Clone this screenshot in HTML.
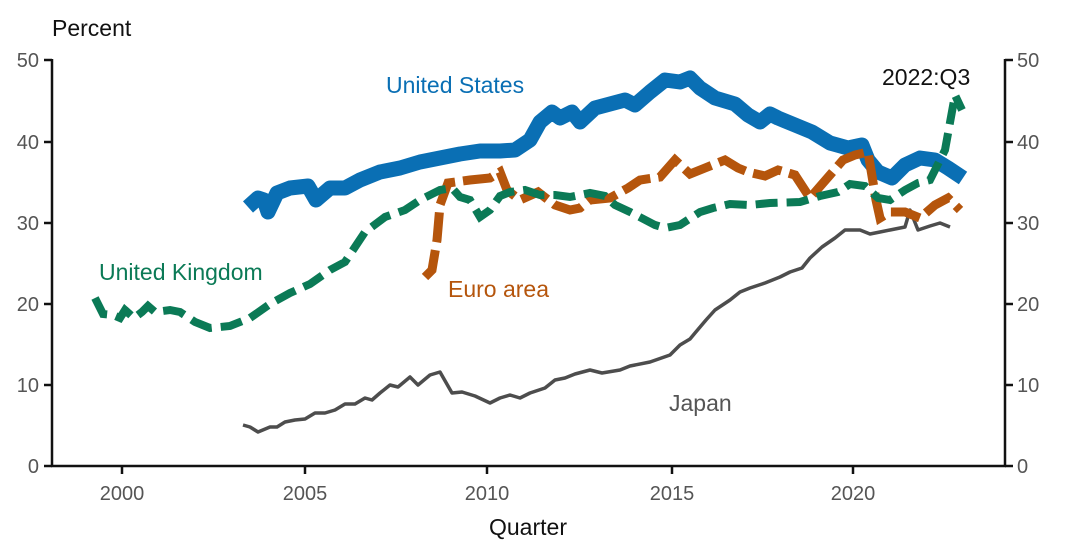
<!DOCTYPE html>
<html><head><meta charset="utf-8"><style>
html,body{margin:0;padding:0;background:#fff;}
svg{display:block;font-family:"Liberation Sans",Arial,sans-serif;}
</style></head><body>
<svg width="1065" height="552" viewBox="0 0 1065 552">
<g stroke="#111" stroke-width="2.5" fill="none">
<line x1="52" y1="59" x2="52" y2="467"/>
<line x1="1005" y1="59" x2="1005" y2="467"/>
<line x1="51" y1="466" x2="1006" y2="466"/>
<line x1="44" y1="60" x2="52" y2="60"/><line x1="44" y1="142" x2="52" y2="142"/><line x1="44" y1="223" x2="52" y2="223"/><line x1="44" y1="304" x2="52" y2="304"/><line x1="44" y1="385" x2="52" y2="385"/><line x1="44" y1="466" x2="52" y2="466"/>
<line x1="1005" y1="60" x2="1013" y2="60"/><line x1="1005" y1="142" x2="1013" y2="142"/><line x1="1005" y1="223" x2="1013" y2="223"/><line x1="1005" y1="304" x2="1013" y2="304"/><line x1="1005" y1="385" x2="1013" y2="385"/><line x1="1005" y1="466" x2="1013" y2="466"/>
<line x1="122" y1="466" x2="122" y2="474"/><line x1="305" y1="466" x2="305" y2="474"/><line x1="487" y1="466" x2="487" y2="474"/><line x1="672" y1="466" x2="672" y2="474"/><line x1="853" y1="466" x2="853" y2="474"/>
</g>
<g fill="#555" font-size="20">
<g text-anchor="end"><text x="39" y="67">50</text><text x="39" y="149">40</text><text x="39" y="230">30</text><text x="39" y="311">20</text><text x="39" y="392">10</text><text x="39" y="473">0</text></g>
<g text-anchor="start"><text x="1017" y="67">50</text><text x="1017" y="149">40</text><text x="1017" y="230">30</text><text x="1017" y="311">20</text><text x="1017" y="392">10</text><text x="1017" y="473">0</text></g>
<g text-anchor="middle"><text x="122" y="500">2000</text><text x="305" y="500">2005</text><text x="487" y="500">2010</text><text x="672" y="500">2015</text><text x="853" y="500">2020</text></g>
</g>
<text x="52" y="36" font-size="23" fill="#111">Percent</text>
<text x="528" y="535" font-size="23" fill="#111" text-anchor="middle">Quarter</text>
<polyline fill="none" stroke="#4d4d4d" stroke-width="3.5" stroke-linejoin="round" points="243,425 250,427 258,432 270,427 277,427 285,422 295,420 305,419 315,413 325,413 335,410 345,404 355,404 365,398 372,400 380,393 390,385 398,387 410,377 418,385 430,375 440,372 452,393 462,392 475,396 490,403 500,398 510,395 520,398 530,393 545,388 555,380 565,378 575,374 590,370 602,373 620,370 630,366 650,362 670,355 680,345 690,339 695,333 706,320 715,310 730,300 740,292 750,288 765,283 780,277 790,272 802,268 810,258 822,247 835,238 845,230 860,230 870,234 880,232 890,230 900,228 905,227 910,210 918,230 930,226 940,223 950,227"/>
<polyline fill="none" stroke="#0a6fb4" stroke-width="15" stroke-linejoin="round" points="248,207 258,198 264,200 268,212 277,193 290,188 308,186 316,200 330,188 345,188 360,180 380,172 400,168 420,162 440,158 460,154 480,151 500,151 515,150 530,140 540,122 552,112 560,118 572,112 580,122 595,108 610,104 625,100 635,105 650,92 665,80 680,82 690,78 700,88 715,98 735,104 748,115 760,122 770,114 778,118 795,125 812,132 830,143 848,148 862,145 868,160 878,172 892,178 905,165 920,158 935,160 948,168 963,178"/>
<polyline fill="none" stroke="#b5550c" stroke-width="9" stroke-dasharray="30,8" points="425,277 432,270 437,240 440,205 448,183 470,180 490,178 500,172 507,190 520,200 538,192 555,205 570,210 580,208 590,200 610,198 628,188 640,180 660,177 675,160 690,174 705,168 725,160 738,168 748,172 765,176 778,170 795,175 810,198 830,175 843,160 855,155 868,152 876,200 880,218 890,212 905,212 920,218 935,205 948,198 960,210"/>
<polyline fill="none" stroke="#0b7a56" stroke-width="8" stroke-dasharray="22,9" points="95,298 103,314 113,315 120,318 125,310 134,318 142,312 148,306 155,312 170,310 180,312 195,322 210,328 230,326 250,318 270,304 290,293 310,284 330,270 345,262 365,232 385,217 405,210 420,200 440,190 452,188 460,197 470,200 480,217 490,210 500,196 510,192 525,190 540,195 555,195 570,197 590,193 605,196 615,205 630,212 655,225 665,228 680,225 700,212 713,208 730,204 750,205 770,203 800,202 820,196 838,192 850,184 865,186 878,198 890,200 905,190 918,183 930,180 945,150 955,95 962,110"/>
<text x="386" y="93" font-size="23" fill="#0a6fb4">United States</text>
<text x="99" y="280" font-size="23" fill="#0b7a56">United Kingdom</text>
<text x="448" y="297" font-size="23" fill="#b5550c">Euro area</text>
<text x="669" y="411" font-size="23" fill="#555">Japan</text>
<text x="882" y="85" font-size="23" fill="#111">2022:Q3</text>
</svg>
</body></html>
